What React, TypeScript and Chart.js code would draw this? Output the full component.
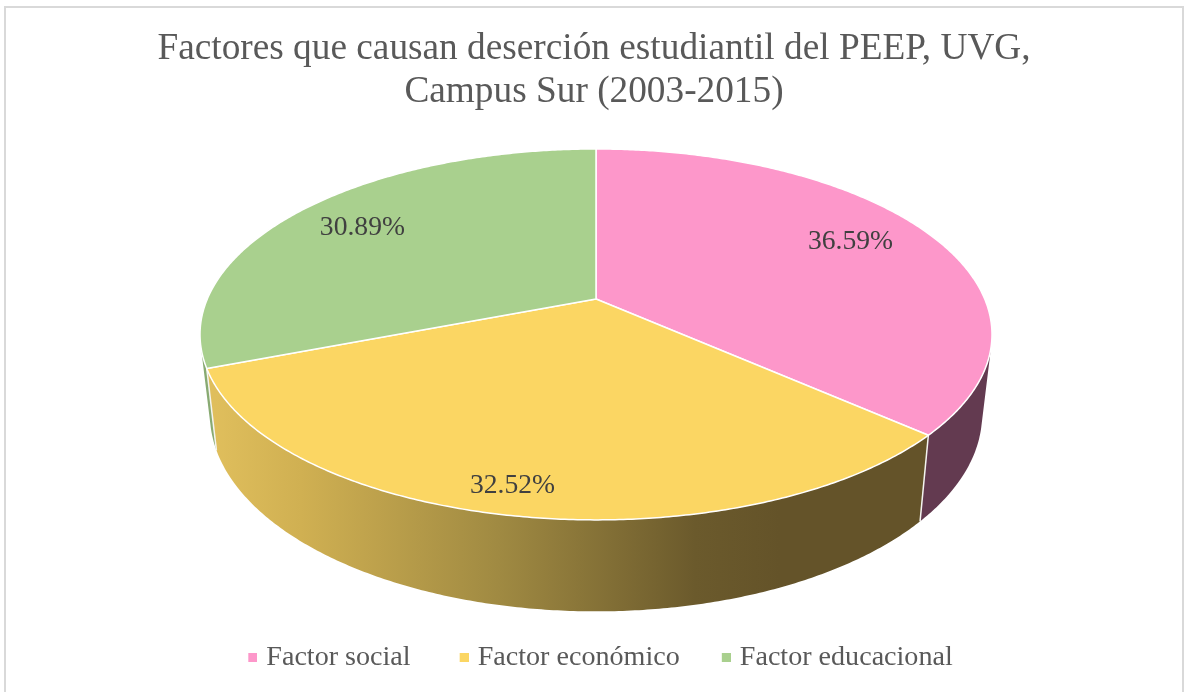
import React, { useEffect, useRef } from "react";
import { Chart, registerables } from "chart.js";

Chart.register(...registerables);

const categories = ["Factor social", "Factor económico", "Factor educacional"];
const values = [36.59, 32.52, 30.89];
const topColors = ["#fd97ca", "#fbd663", "#a9d08e"];
const titleLines = ["Factores que causan deserción estudiantil del PEEP, UVG,", "Campus Sur (2003-2015)"];
const wallStops: [number, string][][] = [
  [[0, "#633a50"], [1, "#633a50"]],
  [[0, "#dfbe5c"], [0.15, "#d0b052"], [0.5, "#a08a42"], [0.85, "#6b5a2c"], [1, "#645329"]],
  [[0, "#88aa72"], [1, "#88aa72"]],
];
const labelRadius = [0.7766, 0.8895, 0.7798];
const labelTurnDeg = [-1.97, 1.36, -0.92];

const SERIF = "'Liberation Serif', serif";
// Perspective of the disc: top rim and bottom rim of the cylinder.
const APEX_X = 596, APEX_Y = 299, PERSP = 0.191;
const TOP_A = 388.7, TOP_B = 178.7;
const BOT_A = 379, BOT_B = 190, BOT_Y = 376.5;

const topPt = (t: number, r = 1) => {
  const u = Math.sin(t) * r, v = Math.cos(t) * r, w = 1 + PERSP * v;
  return [APEX_X + (TOP_A * u) / w, APEX_Y - (TOP_B * v) / w];
};
const botPt = (t: number) => {
  const u = Math.sin(t), v = Math.cos(t), w = 1 + PERSP * v;
  return [APEX_X + (BOT_A * u) / w, BOT_Y - (BOT_B * v) / w];
};

const swatch = (color: string) => {
  const c = document.createElement("canvas");
  c.width = 19;
  c.height = 9;
  const g = c.getContext("2d")!;
  g.fillStyle = color;
  g.fillRect(10, 0, 9, 9);
  return c;
};

const pie3d = {
  id: "pie3d",
  afterLayout(chart: any) {
    chart.legend.left += 4;
    chart.legend.right += 4;
  },
  beforeDraw(chart: any) {
    const { ctx } = chart;
    ctx.save();
    ctx.fillStyle = "#ffffff";
    ctx.fillRect(0, 0, chart.width, chart.height);
    ctx.strokeStyle = "#d9d9d9";
    ctx.lineWidth = 2;
    ctx.strokeRect(5, 7, 1178, 720);
    ctx.restore();
  },
  beforeDatasetsDraw(chart: any) {
    const { ctx } = chart;
    const arcs = chart.getDatasetMeta(0).data;
    const step = Math.PI / 180 / 2;
    const angles = arcs.map((a: any) => {
      const p = a.getProps(["startAngle", "endAngle"], true);
      return [p.startAngle + Math.PI / 2, p.endAngle + Math.PI / 2];
    });
    const facing = (t0: number, t1: number) => {
      const pts = [topPt(t0), topPt(t1), botPt(t1), botPt(t0)];
      let s = 0;
      for (let i = 0; i < 4; i++) {
        const p = pts[i], q = pts[(i + 1) % 4];
        s += p[0] * q[1] - q[0] * p[1];
      }
      return s;
    };
    const reference = Math.sign(facing(Math.PI, Math.PI + step));
    ctx.save();
    // side walls
    angles.forEach(([s, e]: number[], i: number) => {
      const grad = ctx.createLinearGradient(216, 0, 780, 0);
      wallStops[i].forEach(([o, c]) => grad.addColorStop(o, c));
      ctx.fillStyle = grad;
      ctx.beginPath();
      for (let t = s; t < e; t += step) {
        const t1 = Math.min(t + step, e);
        if (Math.sign(facing(t, t1)) !== reference) continue;
        const a = topPt(t), b = topPt(t1), c = botPt(t1), d = botPt(t);
        ctx.moveTo(a[0], a[1]);
        ctx.lineTo(b[0], b[1]);
        ctx.lineTo(c[0], c[1]);
        ctx.lineTo(d[0], d[1]);
        ctx.closePath();
      }
      ctx.fill();
    });
    // wall seams
    ctx.strokeStyle = "#f4f4f0";
    ctx.lineWidth = 1.5;
    angles.forEach(([s]: number[]) => {
      if (Math.sign(facing(s, s + step)) !== reference) return;
      const a = topPt(s), d = botPt(s);
      ctx.beginPath();
      ctx.moveTo(a[0], a[1]);
      ctx.lineTo(d[0], d[1]);
      ctx.stroke();
    });
    // top faces
    angles.forEach(([s, e]: number[], i: number) => {
      ctx.beginPath();
      ctx.moveTo(APEX_X, APEX_Y);
      for (let t = s; t < e; t += step) {
        const p = topPt(t);
        ctx.lineTo(p[0], p[1]);
      }
      const last = topPt(e);
      ctx.lineTo(last[0], last[1]);
      ctx.closePath();
      ctx.fillStyle = topColors[i];
      ctx.fill();
      ctx.strokeStyle = "#ffffff";
      ctx.lineWidth = 1.5;
      ctx.lineJoin = "round";
      ctx.stroke();
    });
    // data labels
    ctx.fillStyle = "#404040";
    ctx.font = `27.6px ${SERIF}`;
    ctx.textAlign = "center";
    ctx.textBaseline = "middle";
    const data = chart.data.datasets[0].data;
    angles.forEach(([s, e]: number[], i: number) => {
      const p = topPt((s + e) / 2 + (labelTurnDeg[i] * Math.PI) / 180, labelRadius[i]);
      ctx.fillText(`${data[i].toFixed(2)}%`, p[0], p[1]);
    });
    ctx.restore();
    return false;
  },
};

export default function App() {
  const ref = useRef<HTMLCanvasElement>(null);
  useEffect(() => {
    const chart = new Chart(ref.current!, {
      type: "pie",
      data: {
        labels: categories,
        datasets: [{ data: values, backgroundColor: topColors, borderWidth: 0 }],
      },
      options: {
        animation: false,
        responsive: false,
        layout: { padding: { bottom: 10 } },
        plugins: {
          tooltip: { enabled: false },
          title: {
            display: true,
            text: titleLines,
            color: "#595959",
            font: { family: SERIF, size: 37.3, weight: "normal", lineHeight: 1.16 },
            padding: { top: 27.5, bottom: 10 },
          },
          legend: {
            position: "bottom",
            labels: {
              color: "#595959",
              font: { family: SERIF, size: 28.1 },
              usePointStyle: true,
              boxWidth: 9,
              boxHeight: 9,
              padding: 37,
              generateLabels: () =>
                categories.map((text, i) => ({
                  text: i === 0 ? `${text} ` : text,
                  index: i,
                  fontColor: "#595959",
                  fillStyle: topColors[i],
                  strokeStyle: topColors[i],
                  lineWidth: 0,
                  pointStyle: swatch(topColors[i]),
                })),
            },
          },
        },
      } as any,
      plugins: [pie3d],
    });
    return () => chart.destroy();
  }, []);
  return (
    <canvas
      ref={ref}
      width={1188}
      height={692}
      style={{ position: "absolute", left: 0, top: 0, display: "block" }}
    />
  );
}
